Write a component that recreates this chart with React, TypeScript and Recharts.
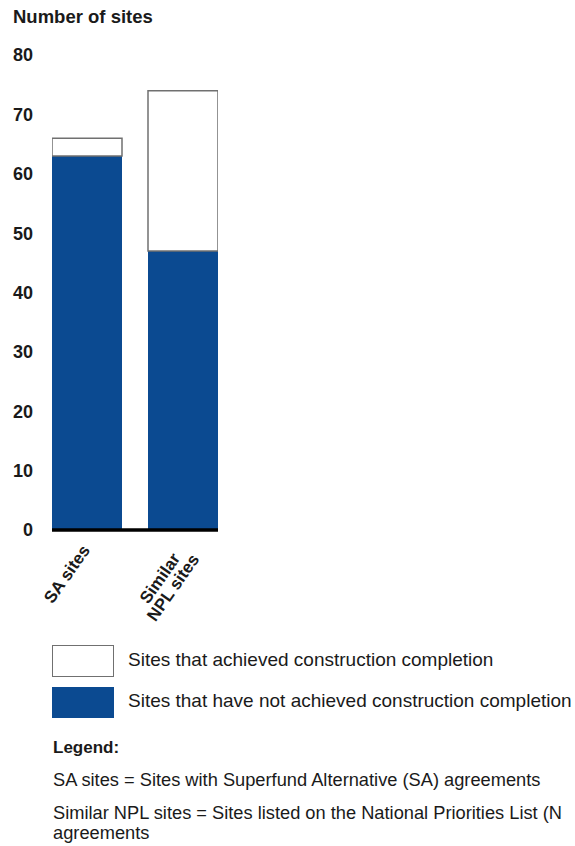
import { Bar, BarChart, XAxis, YAxis } from "recharts";

const categories = ["SA sites", "Similar\nNPL sites"];
const notCompleted = [63, 47];
const completed = [3, 27];
const yTicks = [0, 10, 20, 30, 40, 50, 60, 70, 80];
const seriesNames = [
    "Sites that achieved construction completion",
    "Sites that have not achieved construction completion",
];
const notes = [
    "SA sites = Sites with Superfund Alternative (SA) agreements",
    "Similar NPL sites = Sites listed on the National Priorities List (N",
    "agreements",
];

const data = categories.map((name, i) => ({
    idx: i,
    name,
    notCompleted: notCompleted[i],
    completed: completed[i],
}));

const FONT = '"Liberation Sans", Arial, sans-serif';
const BLUE = "#0b4a91";
const BORDER = "#707070";
const TEXT = "#1a1a1a";

let ctx: CanvasRenderingContext2D | null = null;
const measure = (s: string, font: string) => {
    if (!ctx) ctx = document.createElement("canvas").getContext("2d");
    if (!ctx) return s.length * 8;
    ctx.font = font;
    return ctx.measureText(s).width;
};

// rotated, centred multi-line category label
const XTick = (props: any) => {
    const { x, y, payload } = props;
    const lines = categories[payload.value].split("\n");
    const fs = 17;
    const lh = 16;
    const widths = lines.map((l) => measure(l, `bold ${fs}px ${FONT}`));
    const maxW = Math.max(...widths);
    return (
        <g transform={`translate(${x - 6},${y + 13})`}>
            <text transform="rotate(-55)" fontSize={fs} fontWeight="bold" fill={TEXT} fontFamily={FONT} textAnchor="middle">
                {lines.map((l, i) => (
                    <tspan key={i} x={-maxW / 2} y={12 + i * lh}>{l}</tspan>
                ))}
            </text>
        </g>
    );
};

const App = () => (
    <div style={{ position: "absolute", left: 0, top: 0, width: 575, height: 846, overflow: "hidden", background: "#fff", fontFamily: FONT, color: TEXT }}>
        <div style={{ position: "absolute", left: 13, top: 7, fontSize: 18.5, fontWeight: "bold", lineHeight: "20px" }}>Number of sites</div>
        <div style={{ position: "absolute", left: 0, top: 0 }}>
            <BarChart width={260} height={640} data={data} margin={{ top: 55, right: 42, bottom: 0, left: 0 }}>
                <YAxis
                    width={52}
                    domain={[0, 80]}
                    ticks={yTicks}
                    axisLine={false}
                    tickLine={false}
                    tickMargin={13}
                    tick={{ fontSize: 18, fontWeight: "bold", fill: TEXT, fontFamily: FONT }}
                />
                <XAxis
                    dataKey="idx"
                    type="number"
                    domain={[-35 / 96, 1 + 35 / 96]}
                    allowDataOverflow
                    ticks={[0, 1]}
                    height={110}
                    tickLine={false}
                    tickSize={0}
                    tickMargin={0}
                    axisLine={{ stroke: "#000", strokeWidth: 3.5 }}
                    tick={<XTick />}
                />
                <Bar dataKey="notCompleted" stackId="a" fill={BLUE} barSize={70} isAnimationActive={false} />
                <Bar dataKey="completed" stackId="a" fill="#fff" stroke={BORDER} strokeWidth={1.5} barSize={70} isAnimationActive={false} />
            </BarChart>
        </div>
        <div style={{ position: "absolute", left: 52, top: 645, width: 62, height: 32, boxSizing: "border-box", border: `1.5px solid ${BORDER}`, background: "#fff" }} />
        <div style={{ position: "absolute", left: 128, top: 648, fontSize: 19, lineHeight: "24px", whiteSpace: "nowrap" }}>{seriesNames[0]}</div>
        <div style={{ position: "absolute", left: 52, top: 687, width: 62, height: 31, background: BLUE }} />
        <div style={{ position: "absolute", left: 128, top: 689, fontSize: 19, lineHeight: "24px", whiteSpace: "nowrap" }}>{seriesNames[1]}</div>
        <div style={{ position: "absolute", left: 53, top: 738, fontSize: 17, fontWeight: "bold", lineHeight: "20px" }}>Legend:</div>
        <div style={{ position: "absolute", left: 53, top: 770, fontSize: 18.25, lineHeight: "20px", whiteSpace: "nowrap" }}>{notes[0]}</div>
        <div style={{ position: "absolute", left: 53, top: 803, fontSize: 18.25, lineHeight: "20px", whiteSpace: "nowrap" }}>
            {notes[1]}
            <br />
            {notes[2]}
        </div>
    </div>
);

export default App;
